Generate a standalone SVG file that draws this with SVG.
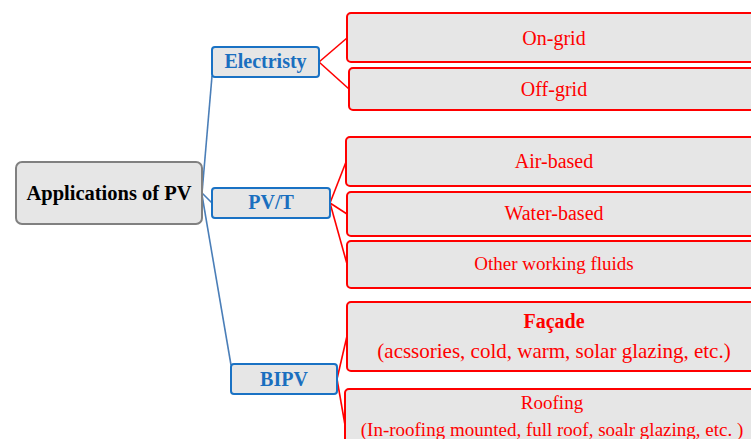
<svg xmlns="http://www.w3.org/2000/svg" width="751" height="439" viewBox="0 0 751 439">
<style>
.root{fill:#e6e6e6;stroke:#808080;stroke-width:2}
.mid{fill:#e6e6e6;stroke:#1a72c4;stroke-width:2}
.leaf{fill:#e6e6e6;stroke:#ff0000;stroke-width:2}
.t{font-family:"Liberation Serif","Times New Roman",serif;text-anchor:middle}
.tr{fill:#000;font-weight:bold;font-size:20px}
.tm{fill:#1a6fbf;font-weight:bold;font-size:20px}
.tl{fill:#ff0000;font-size:20px}
.bl{stroke:#4a7eb8;stroke-width:1.6;fill:none}
.rl{stroke:#ff0000;stroke-width:1.6;fill:none}
</style>
<rect width="751" height="439" fill="#fff"/>
<g id="connectors">
<path class="bl" d="M202,193 L212,76"/>
<path class="bl" d="M202,193 L212,203"/>
<path class="bl" d="M202,195 L231,365"/>
<path class="rl" d="M319,62 L347,38"/>
<path class="rl" d="M319,62 L349,89"/>
<path class="rl" d="M330,203 L346,162"/>
<path class="rl" d="M330,203 L347,214"/>
<path class="rl" d="M330,203 L347,264"/>
<path class="rl" d="M337,379 L347,336"/>
<path class="rl" d="M337,379 L345,425"/>
</g>
<g id="root">
<rect class="root" x="16" y="162" width="186" height="62" rx="6"/>
<text class="t tr" x="109" y="200" style="font-size:20.5px">Applications of PV</text>
</g>
<g id="electristy">
<rect class="mid" x="212" y="47" width="107" height="30" rx="3"/>
<text class="t tm" x="265.5" y="68">Electristy</text>
</g>
<g id="pvt">
<rect class="mid" x="212" y="188" width="118" height="30" rx="3"/>
<text class="t tm" x="271" y="209">PV/T</text>
</g>
<g id="bipv">
<rect class="mid" x="231" y="364" width="106" height="30" rx="3"/>
<text class="t tm" x="284" y="386">BIPV</text>
</g>
<g id="ongrid">
<rect class="leaf" x="347" y="13" width="440" height="49" rx="4"/>
<text class="t tl" x="554" y="45">On-grid</text>
</g>
<g id="offgrid">
<rect class="leaf" x="349" y="68" width="440" height="42" rx="4"/>
<text class="t tl" x="554" y="96">Off-grid</text>
</g>
<g id="air">
<rect class="leaf" x="346" y="137" width="440" height="49" rx="4"/>
<text class="t tl" x="554" y="168">Air-based</text>
</g>
<g id="water">
<rect class="leaf" x="347" y="192" width="440" height="44" rx="4"/>
<text class="t tl" x="554" y="220">Water-based</text>
</g>
<g id="other">
<rect class="leaf" x="347" y="241" width="440" height="47" rx="4"/>
<text class="t tl" x="554" y="270" style="font-size:19px">Other working fluids</text>
</g>
<g id="facade">
<rect class="leaf" x="347" y="302" width="440" height="69" rx="4"/>
<text class="t tl" x="554" y="328" style="font-weight:bold">Façade</text>
<text class="t tl" x="554" y="358" style="font-size:21px">(acssories, cold, warm, solar glazing, etc.)</text>
</g>
<g id="roofing">
<rect class="leaf" x="345" y="389" width="440" height="70" rx="4"/>
<text class="t tl" x="552" y="409" style="font-size:19px">Roofing</text>
<text class="t tl" x="552" y="436" style="font-size:19px">(In-roofing mounted, full roof, soalr glazing, etc. )</text>
</g>
</svg>
